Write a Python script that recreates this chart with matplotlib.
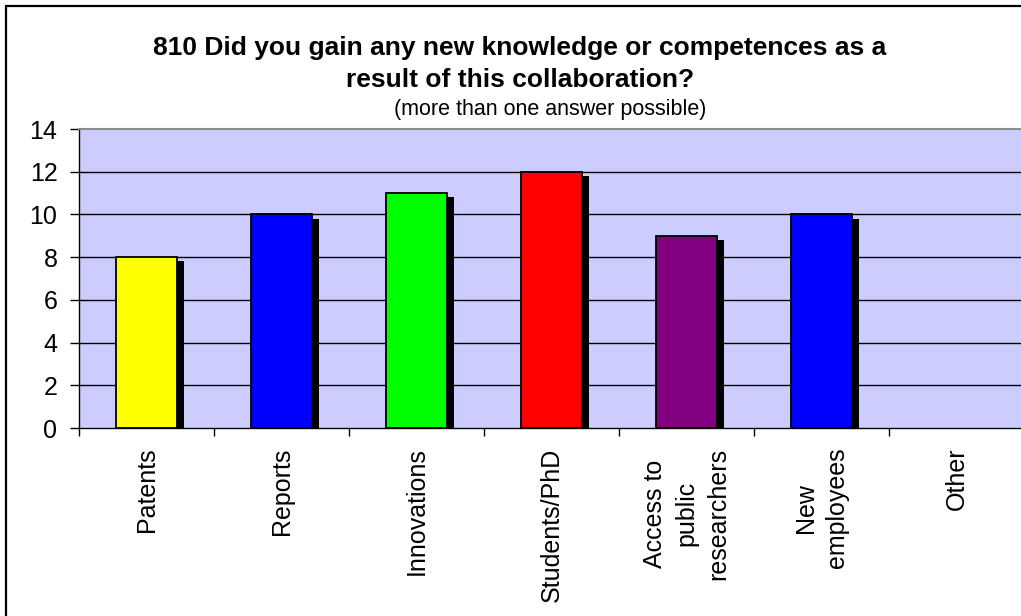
import matplotlib
matplotlib.use("Agg")
import matplotlib.pyplot as plt
import matplotlib.patheffects as pe
from matplotlib.patches import Rectangle
import numpy as np

categories = ["Patents", "Reports", "Innovations", "Students/PhD",
              "Access to\npublic\nresearchers", "New\nemployees", "Other"]
values = [8, 10, 11, 12, 9, 10, 0]
colors = ["#FFFF00", "#0000FF", "#00FF00", "#FF0000", "#800080", "#0000FF", "#FFFFFF"]
yticks = [0, 2, 4, 6, 8, 10, 12, 14]

title1 = "810 Did you gain any new knowledge or competences as a\nresult of this collaboration?"
title2 = "(more than one answer possible)"

plt.rcParams['font.family'] = ['Liberation Sans', 'DejaVu Sans']

W, H = 1021, 616
fig = plt.figure(figsize=(W / 100, H / 100), dpi=100)
fig.patch.set_facecolor("white")

# outer chart border (extends past right/bottom edge as in reference)
fig.patches.append(Rectangle((6 / W, -0.1), 1.2, (H - 6) / H + 0.1, transform=fig.transFigure,
                             fill=False, edgecolor="black", linewidth=1.6, zorder=10))

ax = fig.add_axes([79 / W, (H - 428) / H, 945 / W, 299 / H])
ax.set_facecolor("#CCCCFF")

x = np.arange(len(categories))
shadow = [pe.SimplePatchShadow(offset=(5, -3), shadow_rgbFace="black", alpha=1.0), pe.Normal()]
for xi, v, c in zip(x, values, colors):
    if v <= 0:
        continue
    b = ax.bar(xi, v, width=0.45, color=c, edgecolor="black", linewidth=1.3, zorder=3)
    for p in b:
        p.set_path_effects(shadow)

ax.set_xlim(-0.5, len(categories) - 0.5)
ax.set_ylim(0, 14)
ax.set_yticks(yticks)
ax.set_yticklabels([str(t) for t in yticks], fontsize=18)
for t in yticks[1:-1]:
    ax.axhline(t, color="black", linewidth=1.0, zorder=1)

ax.set_xticks(x)
ax.set_xticklabels(categories, rotation=90, fontsize=18, va="top", ha="center",
                   multialignment="center", linespacing=1.4)
ax.set_xticks(np.arange(len(categories) + 1) - 0.5, minor=True)
ax.tick_params(axis="x", which="major", length=0, pad=14)
ax.tick_params(axis="x", which="minor", length=6, width=1, color="black")
ax.tick_params(axis="y", length=6.5, width=1, pad=9, color="black")

ax.spines["right"].set_visible(False)
ax.spines["top"].set_color("#8c8c8c")
ax.spines["top"].set_linewidth(1.5)
ax.spines["left"].set_color("black")
ax.spines["left"].set_linewidth(1.0)
ax.spines["bottom"].set_color("black")
ax.spines["bottom"].set_linewidth(1.0)

fig.text(520 / W, 1 - 64 / H, title1, ha="center", va="center", fontsize=19,
         fontweight="bold", linespacing=1.45)
fig.text(550 / W, 1 - 110 / H, title2, ha="center", va="center", fontsize=15.5)

fig.savefig("out.png", dpi=100)
